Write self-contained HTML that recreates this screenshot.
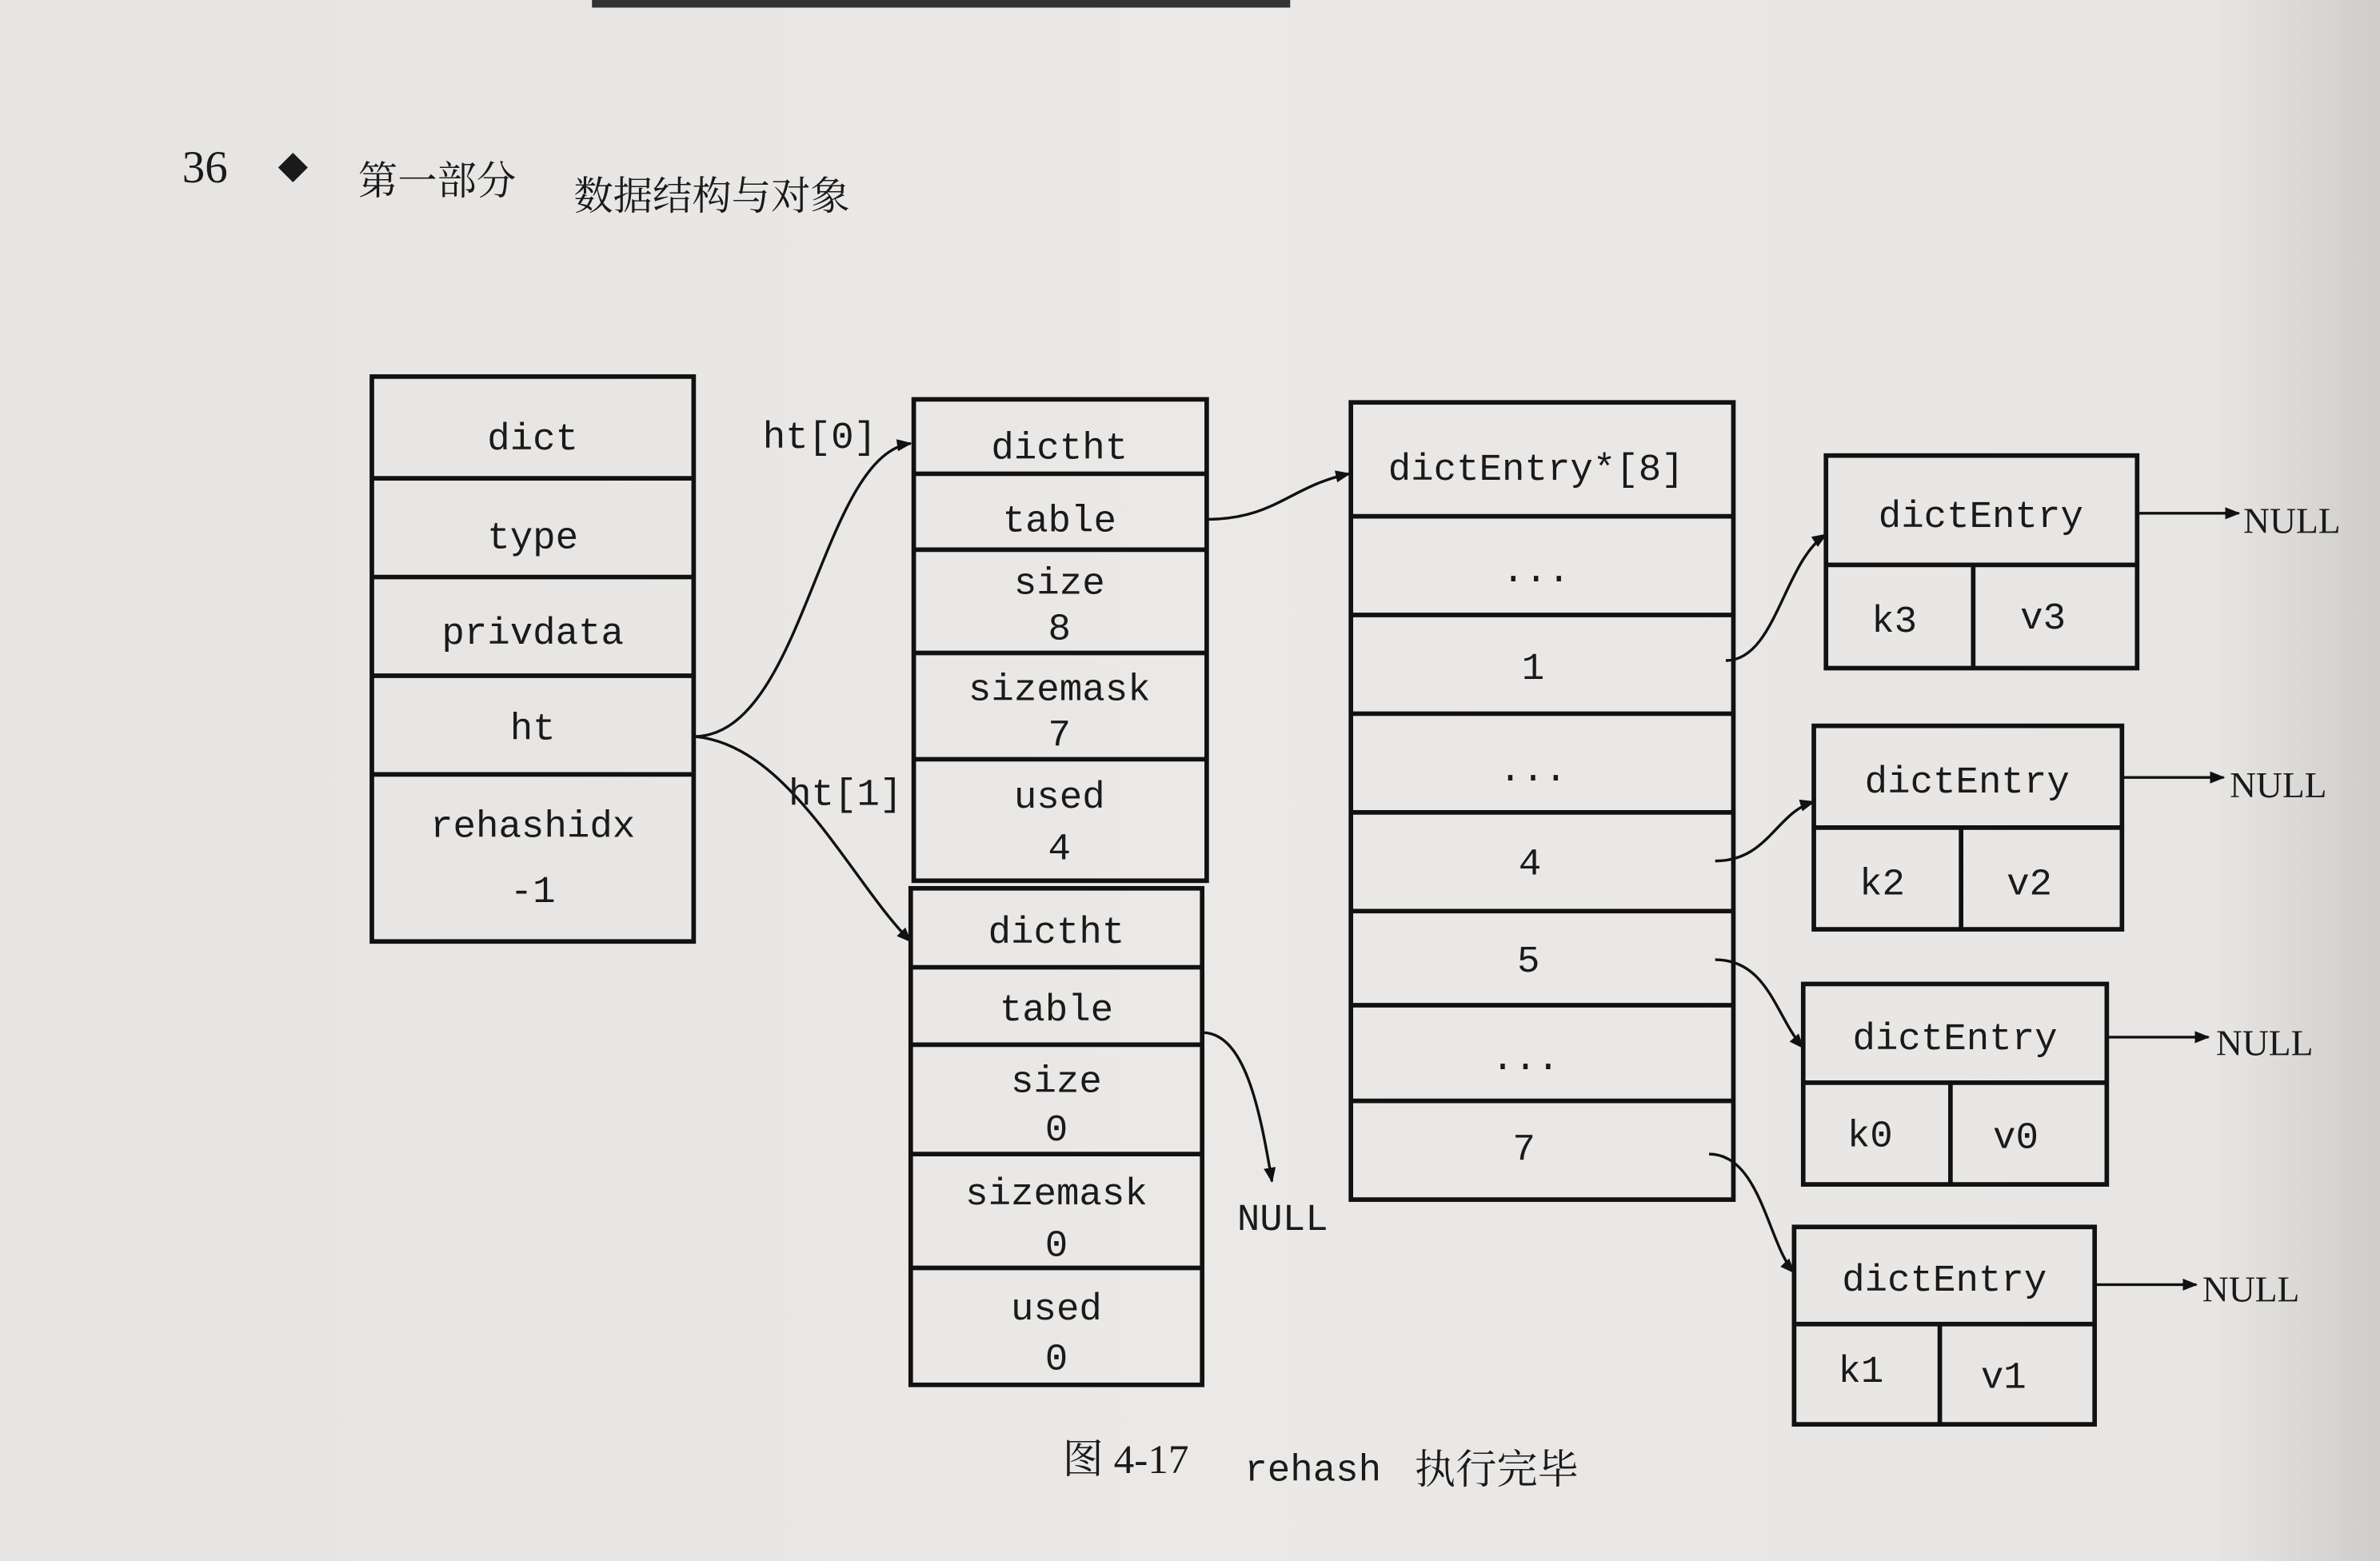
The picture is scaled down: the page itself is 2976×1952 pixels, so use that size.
<!DOCTYPE html>
<html><head><meta charset="utf-8"><style>
html,body{margin:0;padding:0;background:#e9e7e5;}
svg{display:block}
.m{font-family:"Liberation Mono",monospace;font-size:25px;fill:#1a1a1a;text-anchor:middle}
.s{font-family:"Liberation Serif","Noto Serif CJK SC",serif;fill:#1a1a1a}
</style></head><body>
<svg width="2976" height="1952" viewBox="0 0 1568 1028" preserveAspectRatio="none" xmlns="http://www.w3.org/2000/svg">
<defs>
<linearGradient id="bg" x1="0" x2="1" y1="0" y2="0">
<stop offset="0" stop-color="#e6e4e2"/><stop offset="0.5" stop-color="#ebe9e7"/><stop offset="0.93" stop-color="#e8e6e4"/><stop offset="1" stop-color="#cfcdcb"/>
</linearGradient>
<marker id="a" markerWidth="10" markerHeight="8" refX="9" refY="4" orient="auto" markerUnits="userSpaceOnUse"><path d="M0,0 L10,4 L0,8 Z" fill="#111"/></marker>
</defs>
<rect width="1568" height="1028" fill="url(#bg)"/>
<rect x="390" y="0" width="460" height="5" fill="#333"/>
<text x="120" y="120" class="s" font-size="30">36</text>
<text x="183" y="118" class="s" font-size="20">◆</text>
<text x="236" y="128" class="s" font-size="26">第一部分</text>
<text x="378" y="138" class="s" font-size="26">数据结构与对象</text>
<g fill="none" stroke="#111" stroke-width="3">
<rect x="245" y="248" width="212" height="372"/>
<line x1="245" y1="315" x2="457" y2="315"/><line x1="245" y1="380" x2="457" y2="380"/><line x1="245" y1="445" x2="457" y2="445"/><line x1="245" y1="510" x2="457" y2="510"/>
<rect x="602" y="263" width="193" height="317"/>
<line x1="602" y1="312" x2="795" y2="312"/><line x1="602" y1="362" x2="795" y2="362"/><line x1="602" y1="430" x2="795" y2="430"/><line x1="602" y1="500" x2="795" y2="500"/>
<rect x="600" y="585" width="192" height="327"/>
<line x1="600" y1="637" x2="792" y2="637"/><line x1="600" y1="688" x2="792" y2="688"/><line x1="600" y1="760" x2="792" y2="760"/><line x1="600" y1="835" x2="792" y2="835"/>
<rect x="890" y="265" width="252" height="525"/>
<line x1="890" y1="340" x2="1142" y2="340"/><line x1="890" y1="405" x2="1142" y2="405"/><line x1="890" y1="470" x2="1142" y2="470"/><line x1="890" y1="535" x2="1142" y2="535"/><line x1="890" y1="600" x2="1142" y2="600"/><line x1="890" y1="662" x2="1142" y2="662"/><line x1="890" y1="725" x2="1142" y2="725"/>
<rect x="1203" y="300" width="205" height="140"/><line x1="1203" y1="372" x2="1408" y2="372"/><line x1="1300" y1="372" x2="1300" y2="440"/>
<rect x="1195" y="478" width="203" height="134"/><line x1="1195" y1="545" x2="1398" y2="545"/><line x1="1292" y1="545" x2="1292" y2="612"/>
<rect x="1188" y="648" width="200" height="132"/><line x1="1188" y1="713" x2="1388" y2="713"/><line x1="1285" y1="713" x2="1285" y2="780"/>
<rect x="1182" y="808" width="198" height="130"/><line x1="1182" y1="872" x2="1380" y2="872"/><line x1="1278" y1="872" x2="1278" y2="938"/>
</g>
<g fill="none" stroke="#111" stroke-width="1.8" marker-end="url(#a)">
<path d="M457,485 C530,485 540,300 600,292"/>
<path d="M457,485 C520,490 560,580 600,620"/>
<path d="M795,342 C840,342 850,320 889,312"/>
<path d="M792,680 C820,680 830,730 838,778"/>
<path d="M1137,435 C1170,435 1175,370 1203,352"/>
<path d="M1130,567 C1165,567 1170,535 1195,528"/>
<path d="M1130,632 C1165,632 1170,670 1188,690"/>
<path d="M1126,760 C1160,760 1165,820 1182,838"/>
<path d="M1408,338 L1475,338"/>
<path d="M1398,512 L1465,512"/>
<path d="M1388,683 L1455,683"/>
<path d="M1380,846 L1447,846"/>
</g>
<g class="m">
<text x="351" y="296">dict</text><text x="351" y="361">type</text><text x="351" y="424">privdata</text><text x="351" y="487">ht</text><text x="351" y="551">rehashidx</text><text x="351" y="594">-1</text>
<text x="540" y="295">ht[0]</text><text x="557" y="530">ht[1]</text>
<text x="698" y="302">dictht</text><text x="698" y="350">table</text><text x="698" y="391">size</text><text x="698" y="421">8</text><text x="698" y="461">sizemask</text><text x="698" y="491">7</text><text x="698" y="532">used</text><text x="698" y="566">4</text>
<text x="696" y="621">dictht</text><text x="696" y="672">table</text><text x="696" y="719">size</text><text x="696" y="751">0</text><text x="696" y="793">sizemask</text><text x="696" y="827">0</text><text x="696" y="869">used</text><text x="696" y="902">0</text>
<text x="845" y="810">NULL</text>
<text x="1012" y="316">dictEntry*[8]</text><text x="1012" y="383">...</text><text x="1010" y="447">1</text><text x="1010" y="514">...</text><text x="1008" y="576">4</text><text x="1007" y="640">5</text><text x="1005" y="704">...</text><text x="1004" y="764">7</text>
<text x="1305" y="347">dictEntry</text><text x="1248" y="416">k3</text><text x="1346" y="414">v3</text>
<text x="1296" y="522">dictEntry</text><text x="1240" y="589">k2</text><text x="1337" y="589">v2</text>
<text x="1288" y="691">dictEntry</text><text x="1232" y="755">k0</text><text x="1328" y="756">v0</text>
<text x="1281" y="850">dictEntry</text><text x="1226" y="910">k1</text><text x="1320" y="914">v1</text>
</g>
<g class="s" font-size="24"><text x="1478" y="351">NULL</text><text x="1469" y="525">NULL</text><text x="1460" y="695">NULL</text><text x="1451" y="857">NULL</text></g>
<text x="700" y="970" class="s" font-size="27">图 4-17</text>
<text x="820" y="975" class="m" style="text-anchor:start" font-size="26">rehash</text>
<text x="932" y="977" class="s" font-size="27">执行完毕</text>
</svg>
</body></html>
